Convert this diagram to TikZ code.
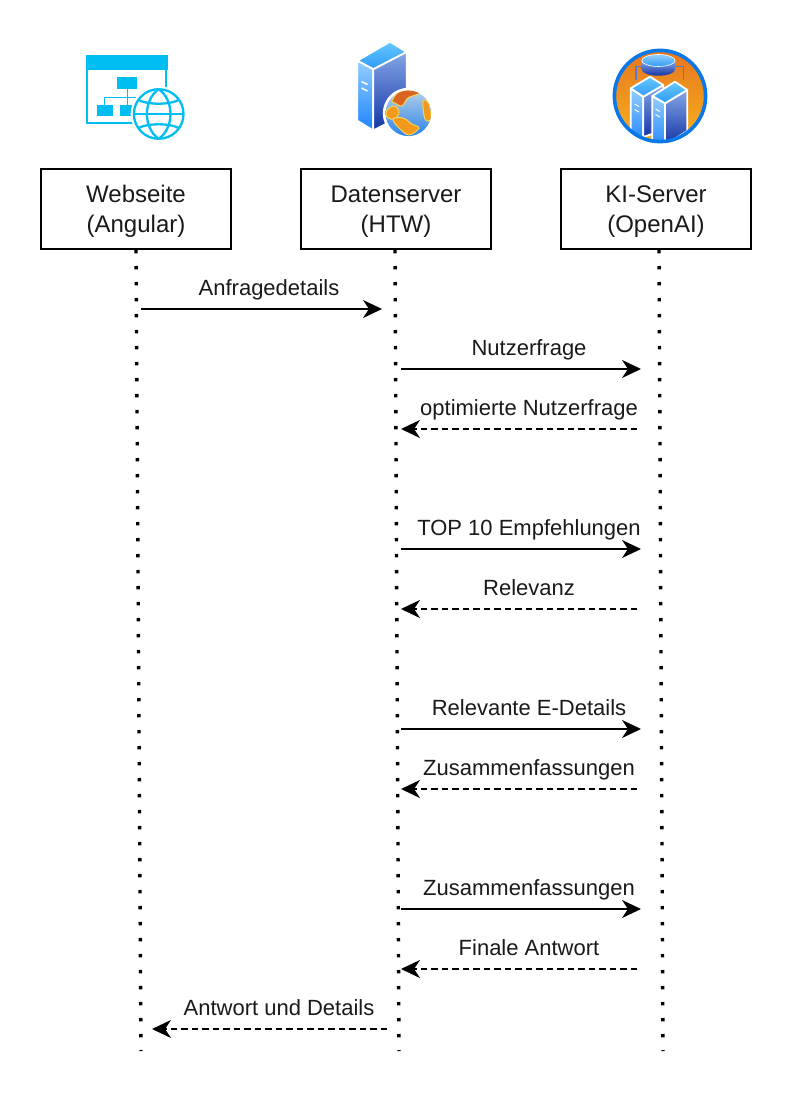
\documentclass[tikz,border=0pt]{standalone}
\usepackage{fontspec}
\setmainfont{Liberation Sans}
\usetikzlibrary{arrows.meta}
\definecolor{azureIcon}{HTML}{00BEF2}
\definecolor{txt}{HTML}{1A1A1A}
\definecolor{topA}{HTML}{66C8FF}
\definecolor{topB}{HTML}{2E9BF5}
\definecolor{leftA}{HTML}{95CEFF}
\definecolor{leftB}{HTML}{1E84FF}
\definecolor{rightA}{HTML}{84A6E8}
\definecolor{rightB}{HTML}{1435A5}
\definecolor{ringBlue}{HTML}{0A78E8}
\definecolor{orgA}{HTML}{E6761F}
\definecolor{orgB}{HTML}{F8B21E}
\definecolor{landA}{HTML}{F39A1C}
\definecolor{landB}{HTML}{D9641E}
\definecolor{landEdge}{HTML}{F6D35A}
\definecolor{seaA}{HTML}{B4CFE6}
\definecolor{seaB}{HTML}{2A84EC}
\tikzset{
  x=1pt,y=-1pt,
  box/.style={draw=black,line width=2pt,fill=white,minimum width=189.5pt,minimum height=79pt,align=center,font=\fontsize{24}{30}\selectfont,text=txt,inner sep=0pt},
  lab/.style={font=\fontsize{22}{26}\selectfont,text=txt,inner sep=0pt,anchor=base},
  life/.style={black,line width=3.4pt,dash pattern=on 3.4pt off 12.6pt},
  msg/.style={black,line width=2pt,-{Stealth[length=19pt,width=18pt,inset=6pt]}},
  ret/.style={msg,dash pattern=on 6.5pt off 4pt},
  iconline/.style={draw=azureIcon,line width=2.3pt},
  whiteedge/.style={draw=white,line width=1.8pt,line join=round},
  tface/.style={top color=topA,bottom color=topB,whiteedge},
  lface/.style={top color=leftA,bottom color=leftB,whiteedge},
  rface/.style={top color=rightA,bottom color=rightB,whiteedge},
  land/.style={draw=landEdge,line width=1pt,line join=round},
}
\begin{document}
\begin{tikzpicture}
\path[use as bounding box,fill=white] (0,0) rectangle (792,1094);

% --- Website icon
\draw[iconline] (87,70) -- (87,123) -- (166,123) -- (166,70);
\fill[azureIcon] (86,55) rectangle (168,70.5);
\fill[azureIcon] (117.3,76.7) rectangle (137.3,89.5);
\fill[azureIcon] (97.3,105.3) rectangle (112.7,116);
\fill[azureIcon] (120,105.3) rectangle (132,116);
\draw[azureIcon,line width=1.5pt] (127.3,89) -- (127.3,105.5) (104.5,105.5) -- (104.5,97.5) -- (137,97.5);
\fill[white] (158.7,114) circle (28);
\draw[iconline] (158.7,114) circle (24.8);
\draw[iconline] (158.7,89.2) .. controls (143,100) and (143,128) .. (158.7,138.8);
\draw[iconline] (158.7,89.2) .. controls (174.4,100) and (174.4,128) .. (158.7,138.8);
\draw[iconline] (134,114) -- (183.5,114);
\draw[iconline] (138.5,100) .. controls (148,105) and (169,105) .. (178.9,100);
\draw[iconline] (138.5,128) .. controls (148,123) and (169,123) .. (178.9,128);

% --- Data server icon
\shade[tface] (390,41.7) -- (357.3,60.7) -- (373.3,69.3) -- (406.7,52) -- cycle;
\shade[lface] (357.3,60.7) -- (373.3,69.3) -- (373.3,130.5) -- (357.3,120.7) -- cycle;
\shade[rface] (373.3,69.3) -- (406.7,52) -- (406.7,113) -- (373.3,130.5) -- cycle;
\draw[white,line width=1.4pt] (361.5,81.5) -- (367.5,84.5) (361.5,88) -- (367.5,91);
\fill[white] (408.3,113.3) circle (25.5);
\shade[top color=seaA,bottom color=seaB] (408.3,113.3) circle (22.8);
\begin{scope}
\clip (408.3,113.3) circle (22.8);
\fill[landB,land] plot[smooth cycle,tension=.6] coordinates {(392,101) (399,92) (415,89) (420,93) (408,98) (402,106) (395,103)};
\fill[landA,land] plot[smooth cycle,tension=.6] coordinates {(387,110) (395,106) (399,113) (394,119) (387,117)};
\fill[landA,land] plot[smooth cycle,tension=.6] coordinates {(393,119) (403,118) (412,124) (419,128) (409,135) (399,128)};
\fill[landA,land] plot[smooth cycle,tension=.6] coordinates {(423,101) (429,104) (431,119) (425,119)};
\end{scope}

% --- KI server icon
\begin{scope}
\clip (660,96) circle (47);
\shade[top color=orgA,bottom color=orgB] (660,96) circle (47);
\draw[rightA!60!rightB,line width=1.1pt] (636,80) -- (636,66.7) -- (683.3,66.7) -- (683.3,80);
\shade[top color=rightA,bottom color=rightB] (641.7,60.5) -- (641.7,69.5) arc[start angle=180,end angle=0,x radius=16.7,y radius=6.2] -- (675.1,60.5) -- cycle;
\shade[top color=leftA,bottom color=topB,draw=white,line width=.6pt] (658.4,60.5) ellipse (16.7 and 6);
% left server
\shade[lface] (630.7,88.3) -- (643.3,96.7) -- (643.3,145) -- (630.7,145) -- cycle;
\shade[rface] (643.3,96.7) -- (663.3,85) -- (663.3,130) -- (643.3,137) -- cycle;
\shade[tface] (650,76.7) -- (630.7,88.3) -- (643.3,96.7) -- (663.3,85) -- cycle;
\draw[white,line width=1pt] (634.5,104) -- (639,106.5) (634.5,109.5) -- (639,112);
% right server
\shade[lface] (652.3,96) -- (665,103.3) -- (665,150) -- (652.3,150) -- cycle;
\shade[rface] (665,103.3) -- (687.3,90) -- (687.3,131) -- (665,145) -- cycle;
\shade[tface] (675,81.7) -- (652.3,96) -- (665,103.3) -- (687.3,90) -- cycle;
\draw[white,line width=1pt] (655.5,109) -- (660,111.5) (655.5,114.5) -- (660,117);
\end{scope}
\draw[ringBlue,line width=3.6pt] (660,96) circle (45.6);

% --- Boxes and lifelines
\node[box] (web) at (136,209) {\rule{0pt}{21pt}Webseite\\(Angular)};
\node[box] (data) at (396,209) {\rule{0pt}{21pt}Datenserver\\(HTW)};
\node[box] (ki) at (656,209) {\rule{0pt}{21pt}KI-Server\\(OpenAI)};
\coordinate (webTop) at (136,250);
\coordinate (webEnd) at (141,1051);
\coordinate (dataTop) at (395,250);
\coordinate (dataEnd) at (399,1051);
\coordinate (kiTop) at (659,250);
\coordinate (kiEnd) at (663,1051);
\draw[life] (webTop) -- (webEnd);
\draw[life] (dataTop) -- (dataEnd);
\draw[life] (kiTop) -- (kiEnd);

% --- Messages
\foreach \n/\y in {a/309}{\coordinate (wr\n) at (141,\y);\coordinate (dl\n) at (382,\y);}
\draw[msg] (wra) -- (dla);
\node[lab] (la) at (269,295.5) {Anfragedetails};
\foreach \n/\y in {b/369,d/549,f/729,h/909}{\coordinate (dr\n) at (401,\y);\coordinate (kl\n) at (641,\y);\draw[msg] (dr\n) -- (kl\n);}
\foreach \n/\y in {c/429,e/609,g/789,i/969}{\coordinate (kr\n) at (637,\y);\coordinate (dq\n) at (401,\y);\draw[ret] (kr\n) -- (dq\n);}
\node[lab] (lb) at (529,355.5) {Nutzerfrage};
\node[lab] (lc) at (529,415.5) {optimierte Nutzerfrage};
\node[lab] (ld) at (529,535.5) {TOP 10 Empfehlungen};
\node[lab] (le) at (529,595.5) {Relevanz};
\node[lab] (lf) at (529,715.5) {Relevante E-Details};
\node[lab] (lg) at (529,775.5) {Zusammenfassungen};
\node[lab] (lh) at (529,895.5) {Zusammenfassungen};
\node[lab] (li) at (529,955.5) {Finale Antwort};
\coordinate (dz) at (387,1029);
\coordinate (wz) at (152,1029);
\draw[ret] (dz) -- (wz);
\node[lab] (lj) at (279,1015.5) {Antwort und Details};
\end{tikzpicture}
\end{document}
